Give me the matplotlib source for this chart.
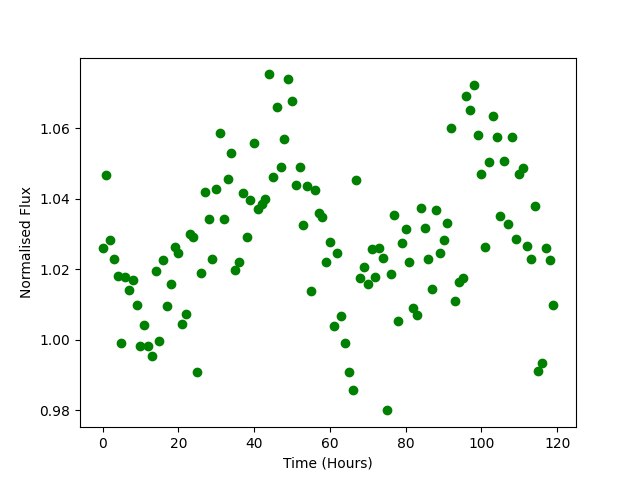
import matplotlib
matplotlib.use('Agg')
import matplotlib.pyplot as plt
import numpy as np

# Hourly time stamps
time_hours = np.arange(120)

# Normalised flux, one value per hour
flux = [
    1.0259, 1.0466, 1.0284, 1.0230, 1.0180, 0.9992, 1.0178, 1.0142, 1.0169, 1.0100,
    0.9982, 1.0043, 0.9982, 0.9953, 1.0194, 0.9996, 1.0226, 1.0095, 1.0157, 1.0263,
    1.0245, 1.0046, 1.0072, 1.0299, 1.0292, 0.9910, 1.0188, 1.0418, 1.0343, 1.0228,
    1.0427, 1.0585, 1.0341, 1.0457, 1.0528, 1.0199, 1.0221, 1.0415, 1.0290, 1.0395,
    1.0557, 1.0372, 1.0386, 1.0399, 1.0752, 1.0461, 1.0659, 1.0491, 1.0568, 1.0738,
    1.0676, 1.0440, 1.0491, 1.0325, 1.0437, 1.0138, 1.0424, 1.0358, 1.0347, 1.0220,
    1.0277, 1.0040, 1.0245, 1.0067, 0.9990, 0.9908, 0.9859, 1.0452, 1.0176, 1.0205,
    1.0157, 1.0256, 1.0179, 1.0259, 1.0233, 0.9800, 1.0186, 1.0353, 1.0053, 1.0273,
    1.0315, 1.0220, 1.0090, 1.0071, 1.0373, 1.0318, 1.0228, 1.0145, 1.0367, 1.0245,
    1.0284, 1.0332, 1.0599, 1.0109, 1.0164, 1.0174, 1.0691, 1.0650, 1.0721, 1.0579,
    1.0469, 1.0262, 1.0503, 1.0633, 1.0576, 1.0350, 1.0506, 1.0328, 1.0576, 1.0287,
    1.0471, 1.0486, 1.0265, 1.0228, 1.0379, 0.9913, 0.9933, 1.0259, 1.0225, 1.0100,
]

fig, ax = plt.subplots(figsize=(6.4, 4.8), dpi=100)
ax.plot(time_hours, flux, 'o', color='green')
ax.set_xlabel('Time (Hours)')
ax.set_ylabel('Normalised Flux')

fig.savefig('out.png')
